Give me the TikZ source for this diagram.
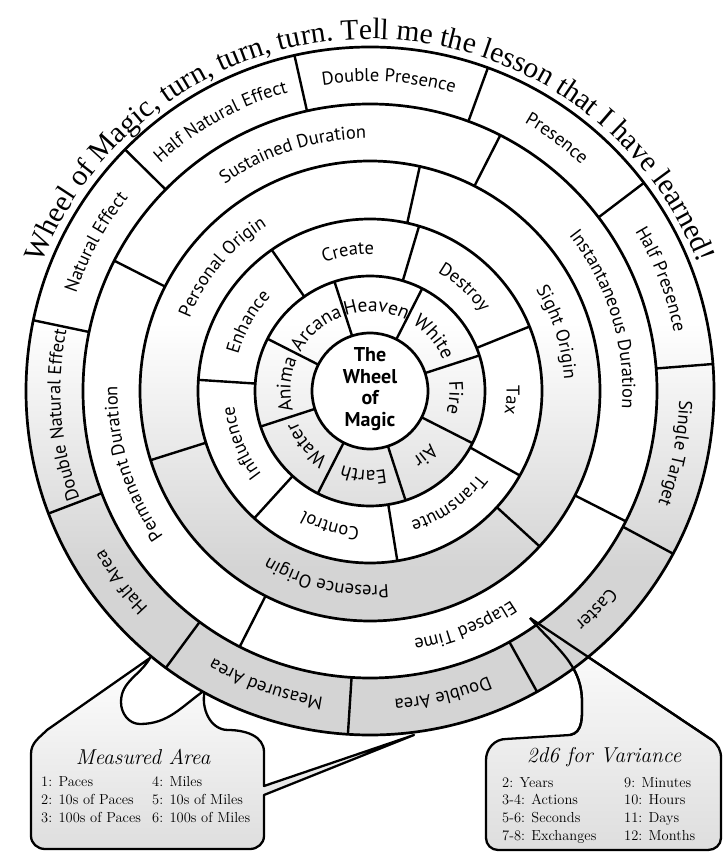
\documentclass[tikz,border=0pt]{standalone}
\usepackage{fontspec}
\newfontfamily\wheelfont{PT Sans}
\newfontfamily\titlefont{Liberation Serif}
\usetikzlibrary{decorations.text,calc}

\pgfdeclareverticalshading{wheelshade}{100bp}{color(0bp)=(black!17); color(37bp)=(black!17); color(55bp)=(white); color(100bp)=(white)}

\newcommand\labelfont{\wheelfont\fontsize{18.5}{18.5}\selectfont}
\newcommand\elemfont{\wheelfont\fontsize{19.5}{19.5}\selectfont}
% text bent round the hub, reading clockwise
\newcommand\ringlabel[4][\labelfont]{%
  \path[decorate,decoration={text along path,text align=center,text={|#1|#4}}]
    ({#3+70}:#2) arc[start angle={#3+70},end angle={#3-70},radius=#2];}

\begin{document}
\begin{tikzpicture}[x=1pt,y=1pt,
  ring/.style={line width=2.7pt},
  spoke/.style={line width=2.4pt},
  bubble/.style={line width=2.3pt,line join=round,top color=white,bottom color=black!13},
  tail/.style={line width=2.3pt,line join=round},
  hublabel/.style={font=\wheelfont\bfseries\fontsize{20}{21.5}\selectfont,align=center},
  boxhead/.style={font=\itshape\fontsize{21.5}{21.5}\selectfont},
  boxrow/.style={font=\fontsize{14.5}{14.5}\selectfont,anchor=base west,inner sep=0pt}]
\useasboundingbox (0,0) rectangle (725,852);
\coordinate (c) at (370,461);

% call-outs
\coordinate (A) at (150,194);
\coordinate (B) at (205,162);
\coordinate (C) at (414,117);
\coordinate (T) at (530,234);
\draw[bubble] (B) to[out=-105,in=180] (228,122) to[out=0,in=90] (264,100) -- (264,66) -- (C)
  -- (264,57) -- (264,16) to[out=-90,in=0] (250,3) -- (45,3) to[out=180,in=-90] (31,16)
  -- (31,98) to[out=90,in=-135] (47,122) -- (A) to[out=-120,in=90] (121,150)
  to[out=-90,in=180] (140,128) to[out=0,in=-145] (B) -- cycle;
\draw[bubble] (T) -- (712,112) to[out=-40,in=90] (721,94) -- (721,14) to[out=-90,in=0] (708,2)
  -- (498,2) to[out=180,in=-90] (486,14) -- (486,92) to[out=90,in=180] (506,113) -- (570,117)
  to[out=10,in=-90] (582,150) to[out=90,in=-50] (T) -- cycle;

\node[boxhead] (mahead) at (143,95) {Measured Area};
\node[boxrow] (ma1) at (41,65) {1: Paces};
\node[boxrow] (ma2) at (41,47) {2: 10s of Paces};
\node[boxrow] (ma3) at (41,30) {3: 100s of Paces};
\node[boxrow] (ma4) at (152,65) {4: Miles};
\node[boxrow] (ma5) at (152,47) {5: 10s of Miles};
\node[boxrow] (ma6) at (152,30) {6: 100s of Miles};

\node[boxhead] (vrhead) at (604,95) {2d6 for Variance};
\node[boxrow] (vr1) at (502,64) {2: Years};
\node[boxrow] (vr2) at (502,47) {3-4: Actions};
\node[boxrow] (vr3) at (502,30) {5-6: Seconds};
\node[boxrow] (vr4) at (502,12) {7-8: Exchanges};
\node[boxrow] (vr5) at (624,64) {9: Minutes};
\node[boxrow] (vr6) at (624,47) {10: Hours};
\node[boxrow] (vr7) at (624,30) {11: Days};
\node[boxrow] (vr8) at (624,12) {12: Months};

% the wheel
\begin{scope}[shift={(c)}]
  \begin{scope}\clip (0,0) circle (344); \shade[shading=wheelshade] (-344,-344) rectangle (344,344); \end{scope}
  \fill[white] (0,0) circle (287);
  \begin{scope}\clip (0,0) circle (230); \shade[shading=wheelshade] (-344,-344) rectangle (344,344); \end{scope}
  \fill[white] (0,0) circle (172);
  \begin{scope}\clip (0,0) circle (115); \shade[shading=wheelshade] (-344,-344) rectangle (344,344); \end{scope}
  \fill[white] (0,0) circle (58);
  \foreach \r in {344,287,230,172,115,58}
    \draw[ring] (0,0) circle (\r);

  \foreach \k in {0,...,10}
    \draw[spoke] ({4.5+\k*360/11}:287) -- ({4.5+\k*360/11}:344);
  \foreach \a in {63,153,243,333}
    \draw[spoke] (\a:230) -- (\a:287);
  \foreach \a in {77.5,197.5,317.5}
    \draw[spoke] (\a:172) -- (\a:230);
  \foreach \k in {0,...,6}
    \draw[spoke] ({22+\k*360/7}:115) -- ({22+\k*360/7}:172);
  \foreach \k in {0,...,7}
    \draw[spoke] ({18+\k*45}:58) -- ({18+\k*45}:115);

  % effect, target and area
  \ringlabel{309.5}{86.5}{Double Presence}
  \ringlabel{309.5}{119}{Half Natural Effect}
  \ringlabel{309.5}{151.5}{Natural Effect}
  \ringlabel{309.5}{184.5}{Double Natural Effect}
  \ringlabel{309.5}{217.5}{Half Area}
  \ringlabel{309.5}{250.5}{Measured Area}
  \ringlabel{309.5}{283.5}{Double Area}
  \ringlabel{309.5}{316}{Caster}
  \ringlabel{309.5}{348.5}{Single Target}
  \ringlabel{309.5}{21}{Half Presence}
  \ringlabel{309.5}{53.5}{Presence}
  % duration
  \ringlabel{252.5}{108}{Sustained Duration}
  \ringlabel{252.5}{197}{Permanent Duration}
  \ringlabel{252.5}{292}{Elapsed Time}
  \ringlabel{252.5}{17}{Instantaneous Duration}
  % origin
  \ringlabel{194.5}{140}{Personal Origin}
  \ringlabel{194.5}{257}{Presence Origin}
  \ringlabel{194.5}{17.5}{Sight Origin}
  % technique
  \ringlabel{136.5}{99}{Create}
  \ringlabel{136.5}{47.7}{Destroy}
  \ringlabel{136.5}{356.3}{Tax}
  \ringlabel{136.5}{304.9}{Transmute}
  \ringlabel{136.5}{253.4}{Control}
  \ringlabel{136.5}{202}{Influence}
  \ringlabel{136.5}{150.6}{Enhance}
  % element
  \ringlabel[\elemfont]{79.5}{85.5}{Heaven}
  \ringlabel[\elemfont]{79.5}{40.5}{White}
  \ringlabel[\elemfont]{79.5}{355.5}{Fire}
  \ringlabel[\elemfont]{79.5}{310.5}{Air}
  \ringlabel[\elemfont]{79.5}{265.5}{Earth}
  \ringlabel[\elemfont]{79.5}{220.5}{Water}
  \ringlabel[\elemfont]{79.5}{175.5}{Anima}
  \ringlabel[\elemfont]{79.5}{130.5}{Arcana}

  \node[hublabel] (hub) at (0,2) {The\\Wheel\\of\\Magic};

  \path[decorate,decoration={text along path,text align=center,
    text={|\titlefont\fontsize{29.5}{29.5}\selectfont|Wheel of Magic, turn, turn, turn. Tell me the lesson that I have learned!}}]
    (178:352) arc[start angle=178,end angle=2,radius=352];
\end{scope}

% tail of the variance box, over the rim
\draw[tail] (T) -- (712,112);
\draw[tail] (570,117) to[out=10,in=-90] (582,150) to[out=90,in=-50] (T);
\end{tikzpicture}
\end{document}
